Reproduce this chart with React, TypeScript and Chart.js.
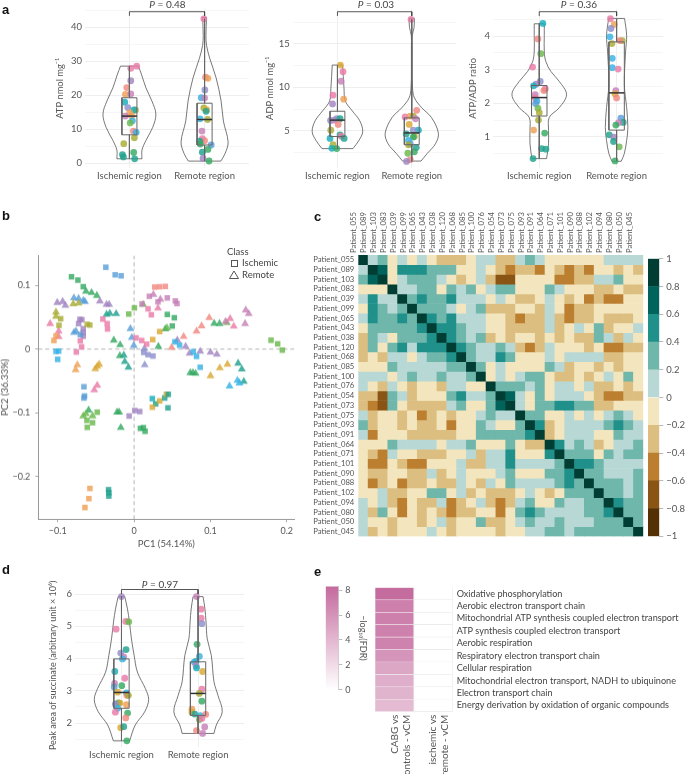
import React, { useEffect, useRef } from "react";
import { Chart, registerables } from "chart.js";

Chart.register(...registerables);
Chart.defaults.font.family = "Lato, 'Noto Sans', sans-serif";
Chart.defaults.color = "#555";

const regions = ["Ischemic region", "Remote region"];
const FONT = "Lato, 'Noto Sans', sans-serif";

const dot: any = {
  pk: "#ea7ba8", sl: "#f0887f", or: "#ef9f55", gd: "#d9a835", ol: "#a8ac35", lm: "#6ab84c", gr: "#35a962",
  tl: "#1fa28d", cy: "#16aebd", bl: "#35b2e4", az: "#5a9ed8", lv: "#8c8fcb", pu: "#a183c0", mv: "#c680b8",
};

// ---------- panel a: ATP ----------
const atpIschemic: any[] = [
  [1.097, 28.6, "pk"], [1.018, 27.95, "pk"], [1.018, 24.3, "pu"], [0.965, 22.3, "sl"], [0.947, 20.3, "or"], [1.018, 20.4, "mv"],
  [0.938, 18, "cy"], [0.978, 16.4, "lv"], [1.08, 15.7, "ol"], [1.06, 15.7, "cy"], [1.004, 14.9, "or"], [0.947, 13.9, "mv"],
  [1.03, 14, "or"], [1.04, 12.5, "bl"], [1.01, 11.9, "lm"], [1.053, 9.5, "sl"], [1.09, 9.1, "bl"], [1.066, 7.5, "ol"],
  [0.925, 5.8, "ol"], [0.907, 2.6, "tl"], [0.92, 1.9, "tl"], [1.057, 3.2, "gr"], [1.07, 1.35, "tl"],
];
const atpRemote: any[] = [
  [1.99, 42.5, "pk"], [2.013, 25.35, "sl"], [2.044, 25, "or"], [2.004, 21.6, "lv"], [1.956, 19.3, "bl"], [2, 19.2, "mv"],
  [1.99, 16.3, "ol"], [2.026, 15.8, "gd"], [2.02, 15.3, "tl"], [1.94, 13.1, "bl"], [2.04, 12.9, "ol"], [1.965, 9.5, "mv"],
  [1.97, 7.3, "pk"], [2, 6.65, "sl"], [1.934, 6.5, "tl"], [1.943, 5.7, "gr"], [2.088, 5.4, "az"], [2.044, 4.1, "gr"],
  [1.97, 3.3, "tl"], [1.98, 1.45, "pu"], [2.06, 0.7, "gr"],
];
const atpViolinIschemic = [[28.6, 0.119], [26, 0.163], [22.2, 0.22], [18.3, 0.3], [14.5, 0.352], [10.6, 0.31], [6.75, 0.22], [3.9, 0.167], [1.35, 0.167]];
const atpViolinRemote = [[42.9, 0.026], [37.6, 0.018], [34.7, 0.026], [30.8, 0.07], [25.1, 0.154], [18.3, 0.22], [12.5, 0.25], [6.3, 0.313], [2.9, 0.273], [0.67, 0.216]];
const atpBoxes = [[1.35, 8.4, 13.9, 19.3, 28.6], [0.7, 5.4, 12.9, 17.7, 42.5]];
const atpMajor = [0, 10, 20, 30, 40];
const atpMinor = [5, 15, 25, 35, 45];
const atpBracket = [43.4, 44.6];

// ---------- panel a: ADP ----------
const adpIschemic: any[] = [
  [1.04, 12.56, "gd"], [1.075, 11.8, "pk"], [1.05, 10.7, "mv"], [0.94, 9.1, "pk"], [1.084, 8.65, "or"], [0.934, 8.1, "pu"],
  [0.907, 6.2, "lv"], [0.96, 6.24, "mv"], [0.99, 6.4, "lv"], [1.035, 6.4, "tl"], [1.01, 5.75, "sl"], [0.91, 5.08, "ol"],
  [0.9, 4.14, "cy"], [1.035, 4.55, "tl"], [1.05, 4.4, "pk"], [1.09, 4.14, "tl"], [0.94, 3.42, "ol"], [0.925, 3, "cy"], [0.99, 2.97, "gr"],
];
const adpRemote: any[] = [
  [1.99, 17.8, "pk"], [2.066, 7.37, "sl"], [1.91, 6.6, "pk"], [1.98, 6.7, "or"], [2.02, 6.7, "ol"], [2.05, 6.4, "mv"],
  [1.965, 5.75, "gd"], [2.09, 5.08, "cy"], [2.02, 5.08, "lv"], [1.925, 4.66, "tl"], [2.035, 4.36, "ol"], [2.02, 4.3, "gr"],
  [1.955, 3.9, "bl"], [1.98, 3.53, "az"], [1.955, 3.4, "ol"], [2.06, 3.1, "tl"], [2.035, 2.6, "gr"], [1.947, 2.44, "lm"],
  [1.98, 1.7, "sl"], [1.93, 1.5, "pu"],
];
const adpViolinIschemic = [[12.56, 0.07], [9.92, 0.088], [8.42, 0.106], [7.3, 0.2], [6.17, 0.3], [4.92, 0.34], [3.9, 0.288], [2.97, 0.208]];
const adpViolinRemote = [[17.93, 0.035], [16.88, 0.031], [15.94, 0.006], [14.81, 0.005], [12.18, 0.005], [9.92, 0.01], [8.8, 0.035], [7.67, 0.133], [6.54, 0.265], [4.74, 0.358], [3.53, 0.319], [2.41, 0.208], [1.54, 0.124]];
const adpBoxes = [[2.97, 4.36, 6.24, 7.26, 12.56], [1.5, 3.42, 4.77, 6.5, 17.8]];
const adpMajor = [5, 10, 15];
const adpMinor = [2.5, 7.5, 12.5, 17.5];
const adpBracket = [18.2, 18.68];

// ---------- panel a: ratio ----------
const ratioIschemic: any[] = [
  [1.047, 4.38, "cy"], [0.983, 3.92, "sl"], [1.02, 3.48, "lm"], [0.914, 3.08, "pk"], [1.013, 2.65, "lv"], [0.96, 2.57, "pu"],
  [0.927, 2.52, "cy"], [1.078, 2.43, "pk"], [1.06, 2.38, "sl"], [0.948, 2.26, "mv"], [0.948, 2.16, "pk"], [0.97, 2.07, "bl"],
  [0.953, 1.99, "az"], [0.983, 1.85, "lm"], [1, 1.72, "ol"], [0.99, 1.5, "ol"], [0.927, 1.2, "or"], [1.07, 1.11, "gr"],
  [1.03, 0.65, "tl"], [1.086, 0.63, "tl"], [0.92, 0.35, "tl"],
];
const ratioRemote: any[] = [
  [1.92, 4.52, "pk"], [1.97, 4.35, "or"], [1.927, 4.23, "lv"], [1.914, 3.98, "bl"], [2.073, 3.87, "ol"], [2.04, 3.87, "sl"],
  [1.94, 3.78, "ol"], [1.944, 3.34, "bl"], [1.944, 3.06, "bl"], [2.02, 3.02, "pk"], [1.99, 2.38, "mv"], [1.98, 2.28, "gd"],
  [2, 2.16, "sl"], [2.056, 1.56, "az"], [2.086, 1.43, "tl"], [2.026, 1.42, "mv"], [1.99, 1.35, "gr"], [1.905, 1.06, "tl"],
  [1.965, 0.99, "pu"], [1.96, 0.86, "tl"], [2.034, 0.7, "lm"], [1.98, 0.28, "gr"],
];
const ratioViolinIschemic = [[4.37, 0.065], [4.02, 0.065], [3.53, 0.065], [3.24, 0.086], [2.95, 0.15], [2.65, 0.26], [2.26, 0.353], [1.87, 0.26], [1.58, 0.13], [1.19, 0.12], [0.79, 0.12], [0.35, 0.095]];
const ratioViolinRemote = [[4.53, 0.103], [4.02, 0.13], [3.53, 0.116], [2.55, 0.1], [1.87, 0.13], [1.28, 0.146], [0.89, 0.13], [0.5, 0.1], [0.27, 0.06]];
const ratioBoxes = [[0.35, 1.62, 2.17, 2.53, 4.38], [0.28, 1.2, 2.31, 3.83, 4.52]];
const ratioMajor = [1, 2, 3, 4];
const ratioMinor = [0.5, 1.5, 2.5, 3.5, 4.5];
const ratioBracket = [4.6, 4.73];

// ---------- panel d ----------
const succIschemic: any[] = [
  [1, 5.92, "pu"], [1.056, 5.15, "pk"], [1.095, 5.14, "lm"], [0.93, 4.91, "pk"], [1.06, 4.28, "tl"], [0.99, 4.17, "lv"],
  [1.03, 4.05, "mv"], [1.013, 3.99, "bl"], [0.913, 3.6, "cy"], [1.043, 3.39, "pk"], [0.91, 3.23, "mv"], [1.004, 3.16, "gr"],
  [0.905, 3.12, "az"], [0.95, 2.96, "gd"], [1.065, 2.94, "bl"], [1.07, 2.86, "sl"], [1.09, 2.86, "ol"], [0.96, 2.63, "gr"],
  [0.98, 2.62, "gd"], [0.92, 2.59, "lv"], [1.065, 2.57, "or"], [0.95, 2.46, "bl"], [0.92, 2.34, "pk"], [1.08, 2.31, "gr"],
  [1.056, 2.16, "sl"], [0.99, 1.86, "gd"], [1.03, 1.89, "tl"], [1.07, 1.45, "gr"],
];
const succRemote: any[] = [
  [1.98, 5.92, "mv"], [2.04, 5.53, "pk"], [2.04, 5.25, "pk"], [2.05, 5.08, "lv"], [1.987, 4.44, "gr"], [2.017, 4.07, "bl"],
  [1.974, 3.91, "tl"], [1.95, 3.89, "bl"], [1.974, 3.78, "mv"], [1.98, 3.71, "cy"], [2.06, 3.6, "gd"], [2.05, 3.05, "pk"],
  [2.017, 2.92, "ol"], [2.05, 2.68, "gr"], [1.92, 2.43, "or"], [1.92, 2.34, "gd"], [1.957, 2.28, "tl"], [2.03, 2.23, "bl"],
  [2.1, 2.27, "sl"], [2.017, 2.11, "lm"], [2.05, 2.14, "pk"], [2.087, 1.88, "mv"], [1.98, 1.77, "sl"], [2.06, 1.68, "mv"],
];
const succViolinIschemic = [[5.92, 0.043], [5.54, 0.078], [5.13, 0.104], [4.61, 0.13], [4.1, 0.165], [3.58, 0.208], [3.07, 0.312], [2.73, 0.355], [2.35, 0.303], [1.94, 0.18], [1.45, 0.106]];
const succViolinRemote = [[5.92, 0.065], [5.54, 0.09], [5.13, 0.104], [4.61, 0.12], [4.1, 0.173], [3.28, 0.208], [2.86, 0.26], [2.35, 0.316], [1.94, 0.238], [1.68, 0.208]];
const succBoxes = [[1.45, 2.46, 2.95, 3.99, 5.92], [1.68, 2.24, 2.92, 3.9, 5.92]];
const succMajor = [2, 3, 4, 5, 6];
const succMinor = [1.5, 2.5, 3.5, 4.5, 5.5];
const succBracket = [6, 6.14];

// ---------- panel b ----------
const pcaXTicks = [-0.1, 0, 0.1, 0.2];
const pcaYTicks = [-0.2, -0.1, 0, 0.1];
const pcaIschemic: any[] = [
  [-0.037, 0.1285, "az"], [-0.0248, 0.1166, "az"], [-0.017, 0.115, "az"], [-0.082, 0.1135, "gr"], [-0.0736, 0.1083, "gr"], [-0.0666, 0.098, "gr"],
  [-0.007, 0.055, "lm"], [0.0004, 0.0648, "lm"], [-0.0962, 0.0477, "ol"], [-0.0984, 0.0373, "ol"],
  [-0.071, 0.0466, "pu"], [-0.0727, 0.04, "pu"], [-0.0666, 0.0321, "pu"], [-0.0666, 0.0259, "pu"], [-0.0666, 0.0202, "pu"], [-0.0684, 0.0461, "pu"],
  [-0.0614, 0.0389, "ol"], [-0.058, 0.0378, "ol"], [-0.0409, 0.0472, "pk"], [-0.0353, 0.04, "pk"], [-0.0348, 0.0316, "pk"], [-0.0705, 0.0228, "az"],
  [-0.105, 0.0135, "or"], [-0.1023, 0.0207, "or"], [-0.0705, 0.013, "pk"], [-0.0688, 0.0036, "pk"], [-0.0757, -0.0047, "pk"],
  [-0.1023, -0.0036, "bl"], [-0.0988, -0.0031, "bl"], [-0.1001, -0.0161, "bl"],
  [0.0026, 0.0176, "pk"], [0.01, 0.0135, "pk"], [0.0165, 0.0078, "pk"], [0.0244, 0.015, "gd"],
  [0.0104, 0.071, "mv"], [0.02, 0.0829, "mv"], [0.0183, 0.0632, "pk"], [0.0226, 0.0539, "pk"], [0.0313, 0.0741, "mv"], [0.0435, 0.0803, "mv"], [0.054, 0.0756, "mv"], [0.0562, 0.0715, "mv"],
  [0.027, 0.0974, "sl"], [0.0335, 0.0979, "sl"], [0.0409, 0.0984, "sl"],
  [0.0435, 0.0544, "gr"], [0.0527, 0.0492, "gr"], [0.05, 0.0363, "gr"], [0.0335, 0.0275, "gd"], [0.0535, 0.0114, "bl"], [0.0596, 0.0062, "bl"],
  [0.0126, -0.0052, "lv"], [0.0183, -0.0088, "lv"], [0.0248, -0.0109, "lv"],
  [0.0775, -0.0041, "bl"], [0.0818, -0.0114, "bl"], [0.0866, -0.0285, "bl"],
  [0.1794, 0.014, "lm"], [0.1881, 0.0083, "lm"], [0.1942, -0.0016, "lm"],
  [-0.0657, -0.0591, "az"], [-0.0649, -0.0736, "az"], [-0.0657, -0.0767, "az"],
  [-0.0483, -0.099, "lm"], [-0.0618, -0.1119, "lm"], [-0.0544, -0.1155, "lm"], [-0.0614, -0.1228, "lm"],
  [-0.0065, -0.105, "pu"], [0.0009, -0.0964, "pu"], [0.0074, -0.098, "pu"],
  [0.0083, -0.1244, "gr"], [0.0122, -0.1233, "gr"], [0.0144, -0.129, "gr"],
  [0.0239, -0.0777, "cy"], [0.0283, -0.086, "tl"], [0.0239, -0.0912, "gd"], [0.0335, -0.0813, "gd"], [0.0401, -0.0767, "tl"], [0.0422, -0.071, "gd"], [0.0448, -0.071, "tl"], [0.0444, -0.0922, "tl"],
  [-0.0579, -0.2187, "or"], [-0.0592, -0.2347, "or"], [-0.0644, -0.2487, "or"],
  [-0.0335, -0.2207, "tl"], [-0.0331, -0.2254, "tl"], [-0.0331, -0.2306, "tl"],
];
const pcaRemote: any[] = [
  [-0.063, 0.0907, "gr"], [-0.0557, 0.0886, "gr"], [-0.0488, 0.084, "gr"], [-0.0788, 0.0803, "az"], [-0.0727, 0.0793, "az"], [-0.0666, 0.0762, "az"], [-0.0644, 0.0746, "az"],
  [-0.0797, 0.071, "ol"], [-0.0727, 0.072, "ol"], [-0.1006, 0.073, "pu"], [-0.0936, 0.0746, "pu"], [-0.09, 0.0684, "pu"], [-0.0448, 0.0751, "pu"], [-0.0361, 0.07, "pu"], [-0.0327, 0.07, "pu"],
  [-0.0361, 0.0544, "tl"], [-0.0318, 0.056, "tl"], [-0.0235, 0.0554, "tl"], [-0.1023, 0.058, "ol"], [-0.1023, 0.0513, "ol"], [-0.11, 0.04, "pk"],
  [-0.0788, 0.0259, "az"], [-0.0762, 0.028, "az"], [-0.0048, 0.0321, "az"], [-0.003, 0.0181, "az"], [-0.0004, 0.0057, "az"],
  [-0.0988, 0.028, "pk"], [-0.0988, 0.0192, "pk"],
  [0.0253, 0.0855, "mv"], [0.0344, 0.0782, "mv"], [0.0313, 0.0642, "pk"], [0.0118, 0.07, "lm"], [0.0409, 0.0316, "gr"], [0.0431, 0.0332, "lm"], [0.0318, 0.0041, "gr"],
  [0.0566, 0.014, "pu"], [0.0649, 0.0197, "sl"], [0.0492, 0.0026, "sl"],
  [0.0675, 0.0041, "pu"], [0.0727, -0.0067, "pu"], [0.0866, -0.0036, "pu"], [0.1001, -0.0052, "pu"], [0.1084, -0.0083, "pu"],
  [0.0135, 0.001, "lv"], [0.0139, -0.0249, "lv"],
  [0.0818, 0.028, "sl"], [0.0884, 0.0363, "sl"], [0.0984, 0.0492, "sl"],
  [0.1049, 0.0404, "gr"], [0.1119, 0.0399, "gr"], [0.1215, 0.0415, "lm"], [0.1197, 0.043, "mv"], [0.1258, 0.0477, "pk"], [0.1306, 0.0358, "pk"],
  [0.1454, 0.0399, "mv"], [0.1463, 0.0611, "mv"], [0.1502, 0.0554, "mv"],
  [-0.0266, 0.014, "gr"], [-0.0183, 0.0067, "gr"], [-0.0187, -0.0104, "gr"], [-0.0135, -0.0098, "tl"], [-0.0122, -0.0197, "tl"], [-0.0074, -0.0285, "tl"],
  [-0.0744, -0.0249, "or"], [-0.0766, -0.0326, "or"], [-0.0457, -0.0238, "gd"], [-0.0483, -0.027, "gd"], [-0.0509, -0.0311, "gd"],
  [0.0736, -0.0373, "gr"], [0.0771, -0.0373, "gr"], [0.0805, -0.0383, "gr"], [0.1001, -0.042, "gd"], [0.1123, -0.0295, "gd"], [0.1223, -0.0238, "gd"],
  [0.1363, -0.0223, "tl"], [0.1411, -0.0316, "tl"], [0.1437, -0.0508, "tl"], [0.1354, -0.0492, "bl"], [0.138, -0.0534, "bl"], [0.125, -0.058, "bl"],
  [-0.0483, -0.057, "pk"], [-0.0522, -0.0642, "pk"],
  [-0.0596, -0.0959, "gr"], [-0.0631, -0.1016, "lm"], [-0.0666, -0.105, "lm"], [-0.0544, -0.105, "lm"],
  [-0.0196, -0.099, "gr"], [-0.0223, -0.099, "gr"], [-0.0174, -0.1233, "gr"],
];

// ---------- panel c ----------
const patients = ["055", "089", "103", "083", "039", "099", "065", "043", "038", "120", "068", "085", "100", "076", "054", "073", "075", "093", "091", "064", "071", "101", "090", "088", "102", "094", "080", "050", "045"].map((s) => "Patient_" + s);
// each digit is the colour bin of one correlation: 0 is -1 to -0.8 ... 9 is 0.8 to 1
const corrRows = [
  "95645454333455335654444445555",
  "59847776664454323324323244343",
  "68945666543453114444223355644",
  "44495566465645664446544433433",
  "57559676675554543345434232244",
  "47656966654563334435423344444",
  "57667697675554432335323343334",
  "46666679776554433335345463445",
  "36546667976563434434343365354",
  "36467577797655653235444342233",
  "34355456679655764445455553344",
  "44465555566964544446534434344",
  "55545655655694545664334345464",
  "54354344355449666564554533434",
  "33165344467556985464555432233",
  "32164333356446895466776633444",
  "53443423434456559664454545654",
  "63443433424465446973455556765",
  "52444333334466666793455544655",
  "44465555455644464339756534556",
  "43254433344535574447966646566",
  "42243224445335575555697765555",
  "43344335345444564446679665556",
  "42342334335435465555676966656",
  "44533446645343334543466696656",
  "54532433523453235644655669766",
  "53642434323344246765555667966",
  "54434434534463345655655566696",
  "53434445434444344556656666669",
];
const corrColors = ["#543005", "#8a5415", "#bc7f30", "#dcbf80", "#f3e6be", "#b8d8d5", "#6fb6ab", "#20908a", "#01645c", "#003d33"];
const corrEdges = [-1, -0.8, -0.6, -0.4, -0.2, 0, 0.2, 0.4, 0.6, 0.8, 1];

// ---------- panel e ----------
const pathways = [
  "Oxidative phosphorylation", "Aerobic electron transport chain", "Mitochondrial ATP synthesis coupled electron transport",
  "ATP synthesis coupled electron transport", "Aerobic respiration", "Respiratory electron transport chain", "Cellular respiration",
  "Mitochondrial electron transport, NADH to ubiquinone", "Electron transport chain", "Energy derivation by oxidation of organic compounds",
];
const enrichmentCabg = [8.2, 7.1, 7.1, 7.05, 6.9, 5.9, 4.9, 4.5, 4.2, 3.8];
const comparisons = [["CABG vs", "controls - vCM"], ["ischemic vs", "remote - vCM"]];
const fdrTicks = [0, 2, 4, 6, 8];
const fdrMax = 8.32;

// ---------- helpers ----------
const minus = (v: number) => String(v).replace("-", "\u2212");

function fixedArea(box: any, plot: any) {
  return {
    top: plot.top - box.top,
    right: box.left + box.width - plot.right,
    left: plot.left - box.left,
    bottom: box.top + box.height - plot.bottom,
  };
}

function violinLine(center: number, profile: number[][]) {
  const gap = { x: NaN, y: NaN };
  const left = profile.map(([y, w]) => ({ x: center - w, y }));
  const right = profile.map(([y, w]) => ({ x: center + w, y }));
  const first = profile[0];
  const last = profile[profile.length - 1];
  return [
    ...left, gap, ...right, gap,
    { x: center - first[1], y: first[0] }, { x: center + first[1], y: first[0] }, gap,
    { x: center - last[1], y: last[0] }, { x: center + last[1], y: last[0] },
  ];
}

function boxLine(center: number, [lo, q1, , q3, hi]: number[]) {
  const gap = { x: NaN, y: NaN };
  const h = 0.1;
  return [
    { x: center, y: hi }, { x: center, y: q3 }, gap,
    { x: center - h, y: q1 }, { x: center + h, y: q1 }, { x: center + h, y: q3 }, { x: center - h, y: q3 }, { x: center - h, y: q1 }, gap,
    { x: center, y: q1 }, { x: center, y: lo },
  ];
}

function violinConfig(o: any) {
  const area = fixedArea(o.box, o.plot);
  const lineBase = { pointRadius: 0, showLine: true, clip: false, fill: false };
  const points = (list: any[]) => ({
    data: list.map(([x, y]) => ({ x, y })),
    pointBackgroundColor: list.map((p) => dot[p[2]] + "d0"),
    pointBorderWidth: 0,
    pointRadius: 3.4,
    showLine: false,
    clip: false,
    order: 2,
  });
  const datasets: any[] = [
    { ...lineBase, data: violinLine(1, o.violins[0]), borderColor: "#555", borderWidth: 0.8, tension: 0.35, order: 3 },
    { ...lineBase, data: violinLine(2, o.violins[1]), borderColor: "#555", borderWidth: 0.8, tension: 0.35, order: 3 },
    points(o.ischemic),
    points(o.remote),
    { ...lineBase, data: boxLine(1, o.boxes[0]), borderColor: "#666", borderWidth: 1, order: 1 },
    { ...lineBase, data: boxLine(2, o.boxes[1]), borderColor: "#666", borderWidth: 1, order: 1 },
    { ...lineBase, data: [{ x: 0.9, y: o.boxes[0][2] }, { x: 1.1, y: o.boxes[0][2] }], borderColor: "#333", borderWidth: 1.5, order: 0 },
    { ...lineBase, data: [{ x: 1.9, y: o.boxes[1][2] }, { x: 2.1, y: o.boxes[1][2] }], borderColor: "#333", borderWidth: 1.5, order: 0 },
    { ...lineBase, data: [{ x: 1, y: o.bracket[0] }, { x: 1, y: o.bracket[1] }, { x: 2, y: o.bracket[1] }, { x: 2, y: o.bracket[0] }], borderColor: "#444", borderWidth: 0.9, order: 0 },
  ];
  return {
    type: "scatter",
    data: { datasets },
    options: {
      animation: false, responsive: false, maintainAspectRatio: false,
      layout: { padding: { top: area.top, right: area.right, left: 0, bottom: 0 } },
      plugins: { legend: { display: false }, tooltip: { enabled: false } },
      scales: {
        x: {
          type: "linear", min: o.xRange[0], max: o.xRange[1],
          afterBuildTicks: (s: any) => { s.ticks = [{ value: 1 }, { value: 2 }]; },
          afterFit: (s: any) => { s.height = area.bottom; },
          ticks: { callback: (v: number) => regions[v - 1], font: { size: 9.5 }, color: "#555", padding: 2, maxRotation: 0, autoSkip: false },
          grid: { color: "#eeeeee", drawTicks: false }, border: { display: false },
        },
        y: {
          type: "linear", min: o.yRange[0], max: o.yRange[1],
          afterBuildTicks: (s: any) => { s.ticks = [...o.major, ...o.minor].sort((a, b) => a - b).map((value) => ({ value })); },
          afterFit: (s: any) => { s.width = area.left; },
          ticks: { callback: (v: number) => (o.major.includes(v) ? String(v) : ""), font: { size: 9.5 }, color: "#555", padding: 3, autoSkip: false },
          grid: { color: (c: any) => (o.major.includes(c.tick?.value) ? "#eeeeee" : "#f6f6f6"), drawTicks: false }, border: { display: false },
          title: { display: true, text: o.title, font: { size: o.titleSize }, color: "#555", padding: 0 },
        },
      },
    },
  };
}

function pcaConfig(box: any, plot: any) {
  const area = fixedArea(box, plot);
  const xMin = -0.1255, xMax = 0.21, yMin = -0.267, yMax = 0.147;
  const marks = (list: any[], style: string, r: number) => ({
    data: list.map(([x, y]) => ({ x, y })),
    pointBackgroundColor: list.map((p) => dot[p[2]] + "d0"),
    pointBorderWidth: 0, pointStyle: style, pointRadius: r, showLine: false, clip: false, order: 1,
  });
  const dash = { pointRadius: 0, showLine: true, borderColor: "#aaa", borderWidth: 0.9, borderDash: [4, 3], order: 2 };
  const axisGrid = { drawOnChartArea: false, tickLength: 3, color: "#aaa" };
  return {
    type: "scatter",
    data: {
      datasets: [
        { ...dash, data: [{ x: xMin, y: 0 }, { x: xMax, y: 0 }] },
        { ...dash, data: [{ x: 0, y: yMin }, { x: 0, y: yMax }] },
        marks(pcaIschemic, "rect", 3.9),
        marks(pcaRemote, "triangle", 4.6),
      ],
    },
    options: {
      animation: false, responsive: false, maintainAspectRatio: false,
      layout: { padding: { top: area.top, right: area.right, left: 0, bottom: 0 } },
      plugins: { legend: { display: false }, tooltip: { enabled: false } },
      scales: {
        x: {
          type: "linear", min: xMin, max: xMax,
          afterBuildTicks: (s: any) => { s.ticks = pcaXTicks.map((value) => ({ value })); },
          afterFit: (s: any) => { s.height = area.bottom; },
          ticks: { callback: minus, font: { size: 9 }, color: "#555", padding: 3, maxRotation: 0, autoSkip: false },
          grid: axisGrid, border: { color: "#999", width: 1 },
          title: { display: true, text: "PC1 (54.14%)", font: { size: 9.5 }, color: "#555", padding: { top: 2, bottom: 0 } },
        },
        y: {
          type: "linear", min: yMin, max: yMax,
          afterBuildTicks: (s: any) => { s.ticks = pcaYTicks.map((value) => ({ value })); },
          afterFit: (s: any) => { s.width = area.left; },
          ticks: { callback: minus, font: { size: 9 }, color: "#555", padding: 5, autoSkip: false },
          grid: axisGrid, border: { color: "#999", width: 1 },
          title: { display: true, text: "PC2 (36.33%)", font: { size: 9.5 }, color: "#555", padding: 0 },
        },
      },
    },
  };
}

function corrConfig(box: any, plot: any) {
  const area = fixedArea(box, plot);
  return {
    type: "bar",
    data: {
      labels: patients,
      datasets: corrRows.map((row) => ({
        data: patients.map(() => 1),
        backgroundColor: row.split("").map((d) => corrColors[+d]),
        barPercentage: 1, categoryPercentage: 1, borderWidth: 0,
      })),
    },
    options: {
      animation: false, responsive: false, maintainAspectRatio: false,
      layout: { padding: { top: 0, right: area.right, left: 0, bottom: area.bottom } },
      plugins: { legend: { display: false }, tooltip: { enabled: false } },
      scales: {
        x: {
          stacked: true, position: "top",
          afterFit: (s: any) => { s.height = area.top; },
          ticks: { minRotation: 90, maxRotation: 90, autoSkip: false, font: { size: 7.7 }, color: "#555", padding: 2 },
          grid: { display: false, drawTicks: false }, border: { display: false },
        },
        y: { stacked: true, reverse: true, min: 0, max: patients.length, display: false },
        yRows: {
          axis: "y", type: "category", labels: patients, position: "left", offset: true,
          afterFit: (s: any) => { s.width = area.left; },
          ticks: { autoSkip: false, font: { size: 7.7 }, color: "#555", padding: 4 },
          grid: { display: false, drawTicks: false }, border: { display: false },
        },
      },
    },
  };
}

function corrBarConfig(box: any, plot: any) {
  const area = fixedArea(box, plot);
  const cells = corrColors.map((_, i) => [corrEdges[i], corrEdges[i + 1]]);
  return {
    type: "bar",
    data: {
      labels: [""],
      datasets: cells.map((c, i) => ({ data: [c], backgroundColor: corrColors[i], grouped: false, barPercentage: 1, categoryPercentage: 1, borderWidth: 0 })),
    },
    options: {
      animation: false, responsive: false, maintainAspectRatio: false,
      layout: { padding: { top: area.top, left: area.left, bottom: area.bottom, right: 0 } },
      plugins: { legend: { display: false }, tooltip: { enabled: false } },
      scales: {
        x: { display: false },
        y: {
          min: -1, max: 1, position: "right",
          afterBuildTicks: (s: any) => { s.ticks = corrEdges.map((value) => ({ value })); },
          afterFit: (s: any) => { s.width = area.right; },
          ticks: { callback: minus, font: { size: 9.5 }, color: "#555", padding: 3, autoSkip: false },
          grid: { drawOnChartArea: false, tickLength: 4, color: "#bbb" }, border: { display: false },
        },
      },
    },
  };
}

function pink(v: number) {
  const t = v / fdrMax;
  const mix = (a: number) => Math.round(255 + (a - 255) * t);
  return `rgb(${mix(196)},${mix(106)},${mix(157)})`;
}

function enrichConfig(box: any, plot: any) {
  const area = fixedArea(box, plot);
  return {
    type: "bar",
    data: {
      labels: comparisons,
      datasets: enrichmentCabg.map((v) => ({
        data: [1, 1],
        backgroundColor: [pink(v), "#ffffff"],
        borderColor: ["#efe6ec", "#e6e6e6"],
        borderWidth: 0.7,
        barPercentage: 1, categoryPercentage: 1,
      })),
    },
    options: {
      animation: false, responsive: false, maintainAspectRatio: false,
      layout: { padding: { top: area.top, left: area.left, right: 0, bottom: 0 } },
      plugins: { legend: { display: false }, tooltip: { enabled: false } },
      scales: {
        x: {
          stacked: true,
          afterFit: (s: any) => { s.height = area.bottom; },
          ticks: { minRotation: 90, maxRotation: 90, autoSkip: false, font: { size: 10 }, color: "#555", padding: 3 },
          grid: { display: false, drawTicks: false }, border: { display: false },
        },
        y: { stacked: true, reverse: true, min: 0, max: pathways.length, display: false },
        yRows: {
          axis: "y", type: "category", labels: pathways, position: "right", offset: true,
          afterFit: (s: any) => { s.width = area.right; },
          ticks: { autoSkip: false, font: { size: 9.1 }, color: "#444", padding: 4 },
          grid: { display: false, drawTicks: false }, border: { display: false },
        },
      },
    },
  };
}

function fdrBarConfig(box: any, plot: any) {
  const area = fixedArea(box, plot);
  return {
    type: "bar",
    data: {
      labels: [""],
      datasets: [{
        data: [[0, fdrMax]],
        barPercentage: 1, categoryPercentage: 1, borderWidth: 0,
        backgroundColor: (c: any) => {
          const a = c.chart.chartArea;
          if (!a) return pink(fdrMax);
          const g = c.chart.ctx.createLinearGradient(0, a.bottom, 0, a.top);
          g.addColorStop(0, "#ffffff");
          g.addColorStop(1, pink(fdrMax));
          return g;
        },
      }],
    },
    options: {
      animation: false, responsive: false, maintainAspectRatio: false,
      layout: { padding: { top: area.top, left: area.left, bottom: area.bottom, right: 0 } },
      plugins: { legend: { display: false }, tooltip: { enabled: false } },
      scales: {
        x: { display: false },
        y: {
          min: 0, max: fdrMax, position: "right",
          afterBuildTicks: (s: any) => { s.ticks = fdrTicks.map((value) => ({ value })); },
          afterFit: (s: any) => { s.width = area.right; },
          ticks: { font: { size: 9 }, color: "#555", padding: 3, autoSkip: false },
          grid: { drawOnChartArea: false, tickLength: 4, color: "#bbb" }, border: { color: "#ccc" },
          title: { display: true, text: "\u2212log\u2081\u2080(FDR)", font: { size: 9 }, color: "#555", padding: { top: 0, bottom: 0 } },
        },
      },
    },
  };
}

function Panel({ box, make }: any) {
  const ref = useRef<HTMLCanvasElement | null>(null);
  useEffect(() => {
    const chart = new Chart(ref.current as any, make() as any);
    return () => chart.destroy();
  }, []);
  return <canvas ref={ref} width={box.width} height={box.height} style={{ position: "absolute", left: box.left, top: box.top, width: box.width, height: box.height }} />;
}

const text = (x: number, y: number, size: number, extra: any = {}) => ({
  position: "absolute", left: x, top: y, fontFamily: FONT, fontSize: size, lineHeight: "12px", color: "#444", whiteSpace: "nowrap", ...extra,
});
const letter = (x: number, y: number) => ({ position: "absolute", left: x, top: y, fontFamily: "'Liberation Sans', sans-serif", fontWeight: 700, fontSize: 13, lineHeight: "13px", color: "#111" });
const pLabel = (x: number, y: number) => text(x, y - 6, 10, { transform: "translateX(-50%)" });

const boxA1 = { left: 54, top: 0, width: 199, height: 190 };
const plotA1 = { left: 85, top: 6, right: 250, bottom: 168 };
const boxA2 = { left: 264, top: 0, width: 196, height: 190 };
const plotA2 = { left: 292.7, top: 6, right: 458.3, bottom: 168 };
const boxA3 = { left: 467, top: 0, width: 218, height: 190 };
const plotA3 = { left: 493, top: 6, right: 663, bottom: 168 };
const boxD = { left: 48, top: 575, width: 200, height: 199 };
const plotD = { left: 75, top: 583, right: 245, bottom: 747 };
const boxB = { left: -1, top: 245, width: 300, height: 304.7 };
const plotB = { left: 38.3, top: 252.7, right: 295, bottom: 519 };
const boxC = { left: 300, top: 205, width: 345, height: 340 };
const plotC = { left: 358.3, top: 255, right: 643.3, bottom: 539.3 };
const boxCB = { left: 640, top: 250, width: 45, height: 295 };
const plotCB = { left: 648, top: 255, right: 659.3, bottom: 539.3 };
const boxE = { left: 370, top: 578, width: 315, height: 196 };
const plotE = { left: 375, top: 582.3, right: 452.7, bottom: 711.7 };
const boxEB = { left: 320, top: 578, width: 48, height: 120 };
const plotEB = { left: 325.7, top: 582.3, right: 338.3, bottom: 691 };

export default function App() {
  return (
    <div style={{ position: "absolute", left: 0, top: 0, width: 685, height: 774, background: "#fff", overflow: "hidden" }}>
      <Panel box={boxA1} make={() => violinConfig({ box: boxA1, plot: plotA1, xRange: [0.409, 2.591], yRange: [-1.36, 45.49], major: atpMajor, minor: atpMinor, title: "ATP nmol mg\u207B\u00B9", titleSize: 9.4, ischemic: atpIschemic, remote: atpRemote, violins: [atpViolinIschemic, atpViolinRemote], boxes: atpBoxes, bracket: atpBracket })} />
      <Panel box={boxA2} make={() => violinConfig({ box: boxA2, plot: plotA2, xRange: [0.398, 2.595], yRange: [0.745, 19.03], major: adpMajor, minor: adpMinor, title: "ADP nmol mg\u207B\u00B9", titleSize: 9.4, ischemic: adpIschemic, remote: adpRemote, violins: [adpViolinIschemic, adpViolinRemote], boxes: adpBoxes, bracket: adpBracket })} />
      <Panel box={boxA3} make={() => violinConfig({ box: boxA3, plot: plotA3, xRange: [0.402, 2.6], yRange: [0.07, 4.82], major: ratioMajor, minor: ratioMinor, title: "ATP/ADP ratio", titleSize: 9.4, ischemic: ratioIschemic, remote: ratioRemote, violins: [ratioViolinIschemic, ratioViolinRemote], boxes: ratioBoxes, bracket: ratioBracket })} />
      <Panel box={boxD} make={() => violinConfig({ box: boxD, plot: plotD, xRange: [0.393, 2.6], yRange: [1.26, 6.32], major: succMajor, minor: succMinor, title: "Peak area of succinate (arbitrary unit \u00D7 10\u2076)", titleSize: 9, ischemic: succIschemic, remote: succRemote, violins: [succViolinIschemic, succViolinRemote], boxes: succBoxes, bracket: succBracket })} />
      <Panel box={boxB} make={() => pcaConfig(boxB, plotB)} />
      <Panel box={boxC} make={() => corrConfig(boxC, plotC)} />
      <Panel box={boxCB} make={() => corrBarConfig(boxCB, plotCB)} />
      <Panel box={boxE} make={() => enrichConfig(boxE, plotE)} />
      <Panel box={boxEB} make={() => fdrBarConfig(boxEB, plotEB)} />

      <div style={pLabel(167.5, 4) as any}><i>P</i> = 0.48</div>
      <div style={pLabel(376, 4) as any}><i>P</i> = 0.03</div>
      <div style={pLabel(579, 4) as any}><i>P</i> = 0.36</div>
      <div style={pLabel(160, 584) as any}><i>P</i> = 0.97</div>

      <div style={letter(2, 3) as any}>a</div>
      <div style={letter(2, 209) as any}>b</div>
      <div style={letter(314, 210) as any}>c</div>
      <div style={letter(2, 563) as any}>d</div>
      <div style={letter(314, 565) as any}>e</div>

      <div style={text(227, 246, 9.5) as any}>Class</div>
      <div style={{ position: "absolute", left: 231, top: 260, width: 5, height: 5, border: "1px solid #555" }} />
      <div style={text(242, 257, 9.5) as any}>Ischemic</div>
      <svg style={{ position: "absolute", left: 229, top: 270 }} width="10" height="10"><polygon points="5,1 9.5,8.5 0.5,8.5" fill="none" stroke="#555" strokeWidth="1" /></svg>
      <div style={text(242, 269, 9.5) as any}>Remote</div>
    </div>
  );
}
